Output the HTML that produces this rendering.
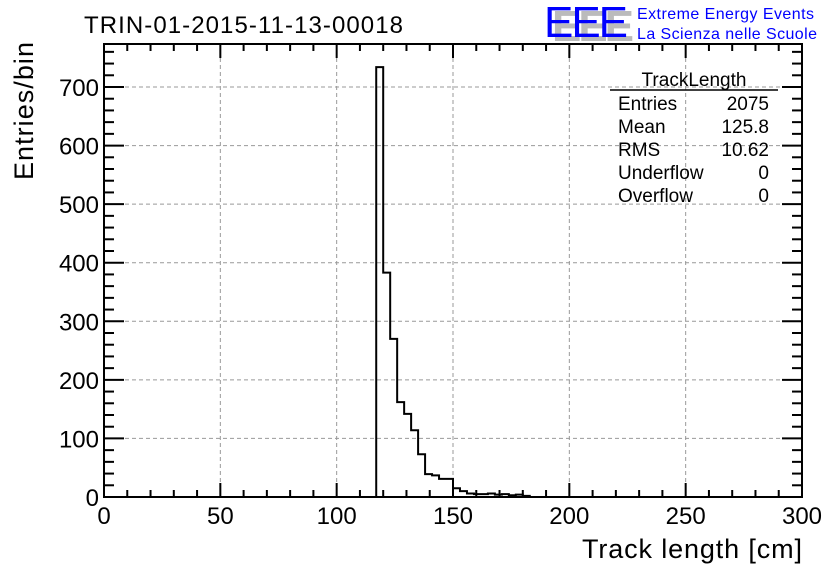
<!DOCTYPE html>
<html><head><meta charset="utf-8"><style>
body{margin:0;background:#fff}
svg text{font-family:"Liberation Sans",sans-serif}
</style></head><body>
<svg id="c" width="836" height="572" xmlns="http://www.w3.org/2000/svg">
<rect width="836" height="572" fill="#fff"/>
<text x="84" y="33" font-size="24" fill="#000" textLength="319">TRIN-01-2015-11-13-00018</text>
<g>
<text x="552" y="41" font-size="44" fill="#bbb" font-weight="bold" textLength="82">EEE</text>
<text x="544" y="37" font-size="44" fill="#0000ff" textLength="84">EEE</text>
<text x="637" y="19" font-size="16" fill="#0000ff" textLength="177">Extreme Energy Events</text>
<text x="637" y="39" font-size="16" fill="#0000ff" textLength="180">La Scienza nelle Scuole</text>
</g>
<g id="grid"></g>
<g id="hist"></g>
<g id="axes"></g>
<g font-size="19" fill="#000">
<text x="694" y="86" text-anchor="middle">TrackLength</text>
<line x1="610" y1="90" x2="778" y2="90" stroke="#000" stroke-width="1.5"/>
<text x="618" y="110">Entries</text><text x="769" y="110" text-anchor="end">2075</text>
<text x="618" y="133">Mean</text><text x="769" y="133" text-anchor="end">125.8</text>
<text x="618" y="156">RMS</text><text x="769" y="156" text-anchor="end">10.62</text>
<text x="618" y="179">Underflow</text><text x="769" y="179" text-anchor="end">0</text>
<text x="618" y="202">Overflow</text><text x="769" y="202" text-anchor="end">0</text>
</g>
<text x="802" y="558" font-size="27" text-anchor="end" textLength="220">Track length [cm]</text>
<text transform="translate(33,180) rotate(-90)" font-size="27" textLength="138">Entries/bin</text>
</svg>
<script>
const binStart = 117;
const binWidth = 3;
const counts = [734, 383, 270, 162, 142, 114, 73, 39, 37, 31, 31, 15, 10, 6, 5, 5, 6, 4, 5, 3, 4, 2];
const xTicks = [0, 50, 100, 150, 200, 250, 300];
const yTicks = [0, 100, 200, 300, 400, 500, 600, 700];
const NS = "http://www.w3.org/2000/svg";
const L = 104, R = 802, T = 44, B = 497;
const xs = v => L + (v - 0) / 300 * (R - L);
const ys = v => B - v * (410 / 700);
function mk(tag, attrs, parent) {
  const e = document.createElementNS(NS, tag);
  for (const k in attrs) e.setAttribute(k, attrs[k]);
  parent.appendChild(e); return e;
}
const grid = document.getElementById('grid'), axes = document.getElementById('axes'), hist = document.getElementById('hist');
xTicks.slice(1, -1).forEach(v => {
  const l = mk('line', {x1: xs(v), x2: xs(v), y1: T, y2: B, stroke: '#999', 'stroke-dasharray': '4,3'}, grid);
  
  
});
yTicks.slice(1).forEach(v => {
  const l = mk('line', {x1: L, x2: R, y1: ys(v), y2: ys(v), stroke: '#999', 'stroke-dasharray': '4,3'}, grid);
  
  
});
let d = 'M' + xs(binStart) + ',' + B;
counts.forEach((c, i) => {
  const x0 = xs(binStart + i * binWidth), x1 = xs(binStart + (i + 1) * binWidth);
  d += ' L' + x0 + ',' + ys(c) + ' L' + x1 + ',' + ys(c);
});
d += ' L' + xs(binStart + counts.length * binWidth) + ',' + B;
const hp = mk('path', {d: d, fill: 'none', stroke: '#000', 'stroke-width': 2}, hist);


const fr = mk('rect', {x: L, y: T, width: R - L, height: B - T, fill: 'none', stroke: '#000', 'stroke-width': 2}, axes);


for (let v = 0; v <= 300; v += 10) {
  const major = v % 50 === 0, len = major ? 14 : 7;
  mk('line', {x1: xs(v), x2: xs(v), y1: B, y2: B - len, stroke: '#000', 'stroke-width': 2}, axes);
  mk('line', {x1: xs(v), x2: xs(v), y1: T, y2: T + len, stroke: '#000', 'stroke-width': 2}, axes);
}
xTicks.forEach(v => {
  const t = mk('text', {x: xs(v), y: B + 27, 'font-size': 24, 'text-anchor': 'middle'}, axes);
  t.textContent = v;
  
  
});
for (let v = 0; v <= 760; v += 20) {
  if (ys(v) < T) break;
  const major = v % 100 === 0, len = major ? 20 : 10;
  mk('line', {x1: L, x2: L + len, y1: ys(v), y2: ys(v), stroke: '#000', 'stroke-width': 2}, axes);
  mk('line', {x1: R, x2: R - len, y1: ys(v), y2: ys(v), stroke: '#000', 'stroke-width': 2}, axes);
}
yTicks.forEach(v => {
  const t = mk('text', {x: L - 5, y: ys(v) + 9, 'font-size': 24, 'text-anchor': 'end'}, axes);
  t.textContent = v;
  
  
});
</script>
</body></html>
